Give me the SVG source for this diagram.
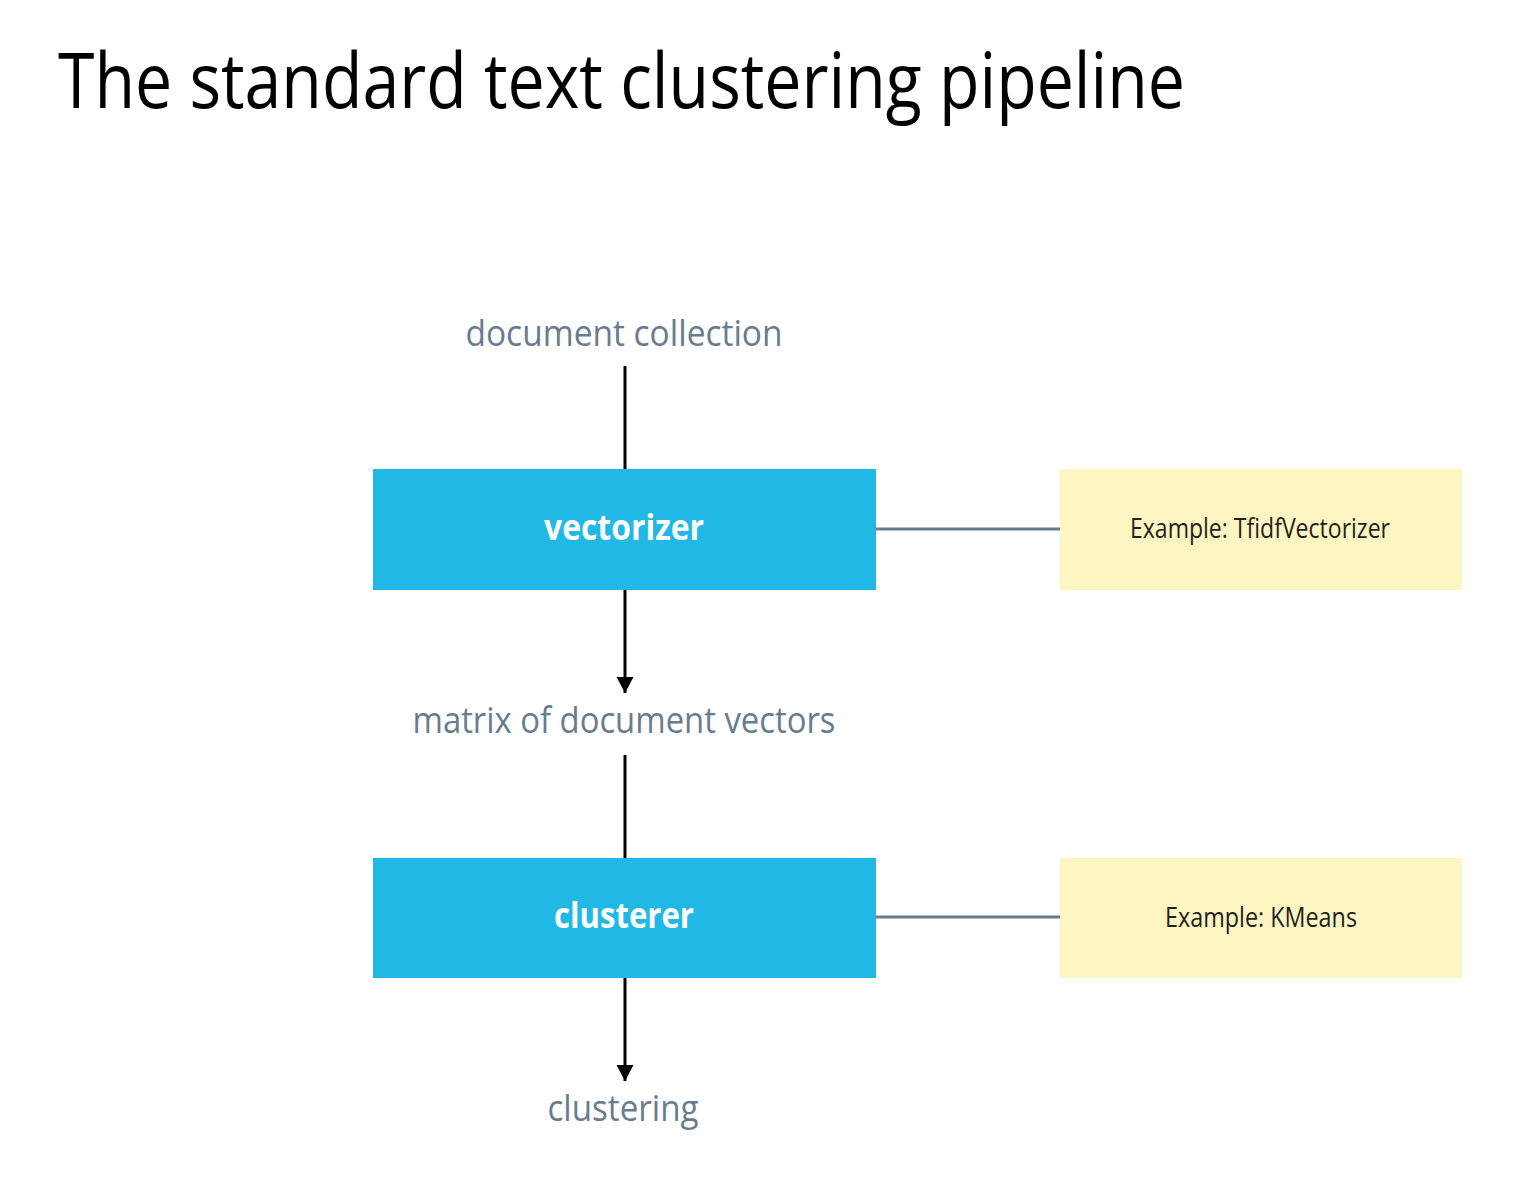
<svg xmlns="http://www.w3.org/2000/svg" width="1538" height="1194" viewBox="0 0 1538 1194">
<style>
.title{font-family:"Open Sans","Noto Sans",sans-serif;font-size:76px;fill:#000}
.lbl{font-family:"Open Sans","Noto Sans",sans-serif;font-size:36px;fill:#687c8f;text-anchor:middle}
.box{fill:#20b9e5}
.boxt{font-family:"Open Sans","Noto Sans",sans-serif;font-size:35px;font-weight:bold;fill:#fff;text-anchor:middle}
.note{fill:#fdf5c2}
.notet{font-family:"Open Sans","Noto Sans",sans-serif;font-size:28px;fill:#231f20;text-anchor:middle}
.flow{stroke:#000;stroke-width:3;fill:none}
.link{stroke:#6b7b8d;stroke-width:3;fill:none}
</style>
<defs>
<marker id="arr" markerUnits="userSpaceOnUse" markerWidth="18" markerHeight="18" refX="16" refY="8.5" orient="auto">
<path d="M0,0 L16,8.5 L0,17 Z" fill="#000"/>
</marker>
</defs>
<rect width="1538" height="1194" fill="#fff"/>
<text class="title" x="58" y="108" textLength="1127" lengthAdjust="spacingAndGlyphs">The standard text clustering pipeline</text>

<g id="connectors">
<line class="flow" x1="625" y1="366" x2="625" y2="469"/>
<line class="flow" x1="625" y1="590" x2="625" y2="693" marker-end="url(#arr)"/>
<line class="flow" x1="625" y1="755" x2="625" y2="858"/>
<line class="flow" x1="625" y1="978" x2="625" y2="1081" marker-end="url(#arr)"/>
<line class="link" x1="876" y1="529" x2="1060" y2="529"/>
<line class="link" x1="876" y1="917" x2="1060" y2="917"/>
</g>

<g id="label-document-collection">
<text class="lbl" x="624" y="346" textLength="317" lengthAdjust="spacingAndGlyphs">document collection</text>
</g>
<g id="node-vectorizer">
<rect class="box" x="373" y="469" width="503" height="121"/>
<text class="boxt" x="624" y="540" textLength="160" lengthAdjust="spacingAndGlyphs">vectorizer</text>
</g>
<g id="note-tfidf">
<rect class="note" x="1060" y="469" width="402" height="121"/>
<text class="notet" x="1260" y="538" textLength="260" lengthAdjust="spacingAndGlyphs">Example: TfidfVectorizer</text>
</g>
<g id="label-matrix">
<text class="lbl" x="624" y="733" textLength="423" lengthAdjust="spacingAndGlyphs">matrix of document vectors</text>
</g>
<g id="node-clusterer">
<rect class="box" x="373" y="858" width="503" height="120"/>
<text class="boxt" x="624" y="928" textLength="140" lengthAdjust="spacingAndGlyphs">clusterer</text>
</g>
<g id="note-kmeans">
<rect class="note" x="1060" y="858" width="402" height="120"/>
<text class="notet" x="1261" y="927" textLength="192" lengthAdjust="spacingAndGlyphs">Example: KMeans</text>
</g>
<g id="label-clustering">
<text class="lbl" x="623" y="1121" textLength="151" lengthAdjust="spacingAndGlyphs">clustering</text>
</g>
</svg>
